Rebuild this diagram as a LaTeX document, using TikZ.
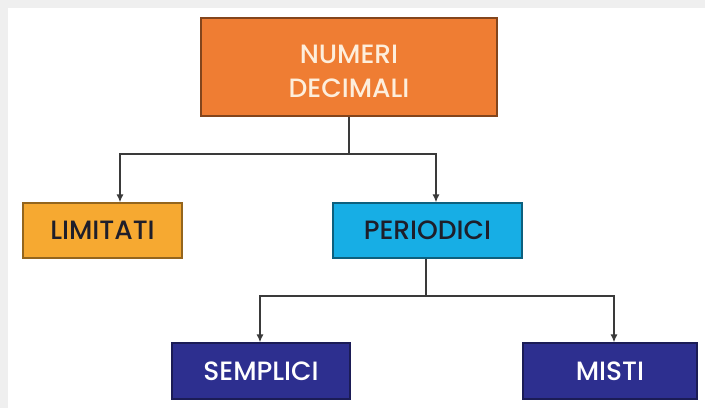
\documentclass[tikz,border=0pt]{standalone}
\usepackage{fontspec}
\setmainfont{Poppins}[UprightFont=* Medium]
\usetikzlibrary{arrows.meta}
\definecolor{bgGray}{HTML}{EFEFEF}
\definecolor{cOrange}{HTML}{EF7D33}
\definecolor{cYellow}{HTML}{F6A931}
\definecolor{cCyan}{HTML}{17AEE5}
\definecolor{cNavy}{HTML}{2D2F8F}
\definecolor{cDark}{HTML}{1E1E2A}
\definecolor{cCream}{HTML}{FDEEDC}
\definecolor{cLine}{HTML}{3A3A3A}
\tikzset{
  box/.style={rectangle, inner sep=0pt, line width=1.2pt, font=\fontsize{26.5}{34}\selectfont, align=center},
  conn/.style={draw=cLine, line width=1.4pt},
  arr/.style={conn, -{Latex[length=8pt,width=7pt]}}
}
\begin{document}
\begin{tikzpicture}[x=1pt,y=-1pt]
\useasboundingbox (0,0) rectangle (705,408);
\fill[bgGray] (0,0) rectangle (705,408);
\fill[white] (8,8) rectangle (705,408);
\node[box, fill=cOrange, draw=cOrange!55!black, minimum width=296pt, minimum height=98pt] (top) at (349,67) {};
\node[box, text=cCream] (toptext) at (349,71) {NUMERI\\DECIMALI};
\node[box, fill=cYellow, draw=cYellow!60!black, text=cDark, minimum width=159pt, minimum height=55pt] (lim) at (102.5,230.5) {LIMITATI};
\node[box, fill=cCyan, draw=cCyan!55!black, text=cDark, minimum width=189pt, minimum height=55pt] (per) at (427.5,230.5) {PERIODICI};
\node[box, fill=cNavy, draw=cNavy!60!black, text=white, minimum width=178pt, minimum height=56pt] (sem) at (261,371) {SEMPLICI};
\node[box, fill=cNavy, draw=cNavy!60!black, text=white, minimum width=174pt, minimum height=56pt] (mis) at (610,371) {MISTI};
\coordinate (j1) at (349,154);
\coordinate (j2) at (426,296);
\draw[conn] (top.south) -- (j1);
\draw[arr] (j1) -| ([xshift=17.5pt]lim.north);
\draw[arr] (j1) -| ([xshift=8.5pt]per.north);
\draw[conn] ([xshift=-1.5pt]per.south) -- (j2);
\draw[arr] (j2) -| ([xshift=-1pt]sem.north);
\draw[arr] (j2) -| ([xshift=4pt]mis.north);
\end{tikzpicture}
\end{document}
